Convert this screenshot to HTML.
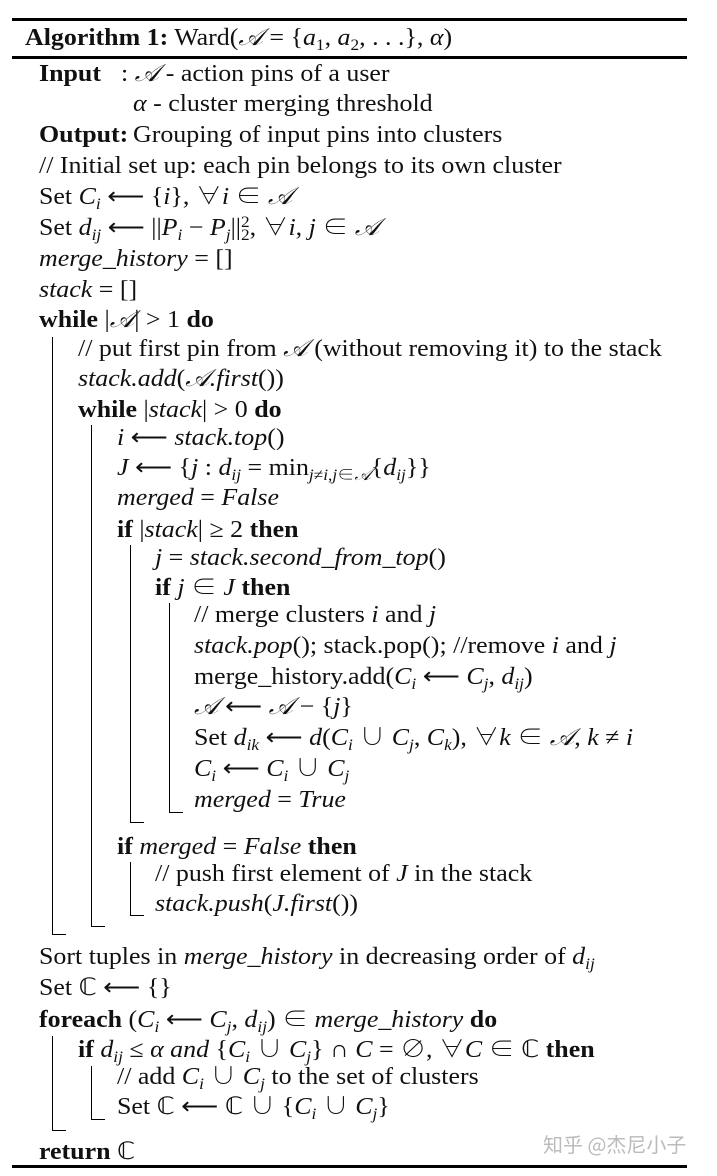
<!DOCTYPE html>
<html><head><meta charset="utf-8"><style>
body{margin:0;width:717px;height:1176px;background:#fff;position:relative;overflow:hidden;font-family:"Liberation Serif","Noto Serif CJK SC",serif;color:#111;}
.l{position:absolute;font-size:24px;line-height:28px;white-space:nowrap;transform:scaleX(1.08);transform-origin:0 50%;}
.b{font-weight:bold}
i{font-style:italic}
sub{font-size:16px;vertical-align:-5px;line-height:0}
sup{font-size:16px;vertical-align:8px;line-height:0}
.h{position:absolute;background:#000;height:3px;left:12px;width:675px}
.v{position:absolute;background:#000;width:1px}
.t{position:absolute;background:#000;height:1px;width:14px}
.wm{position:absolute;left:543px;top:1129px;font-family:"Noto Sans CJK SC",sans-serif;font-size:20px;color:#bbb;}
</style></head><body>
<div class="h" style="top:18px"></div>
<div class="h" style="top:56px"></div>
<div class="h" style="top:1165px"></div>

<div class="l" style="left:25px;top:24px"><span class="b">Algorithm 1:</span> Ward(<i>𝒜</i> = {<i>a</i><sub>1</sub>, <i>a</i><sub>2</sub>, . . .}, <i>α</i>)</div>
<div class="l" style="left:39px;top:60px"><span class="b">Input</span></div>
<div class="l" style="left:121px;top:60px">: <i>𝒜</i> - action pins of a user</div>
<div class="l" style="left:133px;top:90px"><i>α</i> - cluster merging threshold</div>
<div class="l" style="left:39px;top:121px"><span class="b">Output</span><span class="b">:</span></div>
<div class="l" style="left:133px;top:121px">Grouping of input pins into clusters</div>
<div class="l" style="left:39px;top:152px">// Initial set up: each pin belongs to its own cluster</div>
<div class="l" style="left:39px;top:183px">Set <i>C<sub>i</sub></i> ⟵ {<i>i</i>}, ∀<i>i</i> ∈ <i>𝒜</i></div>
<div class="l" style="left:39px;top:214px">Set <i>d<sub>ij</sub></i> ⟵ ||<i>P<sub>i</sub></i> − <i>P<sub>j</sub></i>||<sup>2</sup><sub style="margin-left:-8px">2</sub>, ∀<i>i</i>, <i>j</i> ∈ <i>𝒜</i></div>
<div class="l" style="left:39px;top:245px"><i>merge_history</i> = []</div>
<div class="l" style="left:39px;top:276px"><i>stack</i> = []</div>
<div class="l" style="left:39px;top:306px"><span class="b">while</span> |<i>𝒜</i>| &gt; 1 <span class="b">do</span></div>
<div class="l" style="left:78px;top:335px">// put first pin from <i>𝒜</i> (without removing it) to the stack</div>
<div class="l" style="left:78px;top:365px"><i>stack.add</i>(<i>𝒜.first</i>())</div>
<div class="l" style="left:78px;top:396px"><span class="b">while</span> |<i>stack</i>| &gt; 0 <span class="b">do</span></div>
<div class="l" style="left:117px;top:424px"><i>i</i> ⟵ <i>stack.top</i>()</div>
<div class="l" style="left:117px;top:454px"><i>J</i> ⟵ {<i>j</i> : <i>d<sub>ij</sub></i> = min<sub><i>j</i>≠<i>i</i>,<i>j</i>∈<i>𝒜</i></sub>{<i>d<sub>ij</sub></i>}}</div>
<div class="l" style="left:117px;top:484px"><i>merged</i> = <i>False</i></div>
<div class="l" style="left:117px;top:516px"><span class="b">if</span> |<i>stack</i>| ≥ 2 <span class="b">then</span></div>
<div class="l" style="left:155px;top:544px"><i>j</i> = <i>stack.second_from_top</i>()</div>
<div class="l" style="left:155px;top:574px"><span class="b">if</span> <i>j</i> ∈ <i>J</i> <span class="b">then</span></div>
<div class="l" style="left:194px;top:601px">// merge clusters <i>i</i> and <i>j</i></div>
<div class="l" style="left:194px;top:632px"><i>stack.pop</i>(); stack.pop(); //remove <i>i</i> and <i>j</i></div>
<div class="l" style="left:194px;top:663px">merge_history.add(<i>C<sub>i</sub></i> ⟵ <i>C<sub>j</sub></i>, <i>d<sub>ij</sub></i>)</div>
<div class="l" style="left:194px;top:693px"><i>𝒜</i> ⟵ <i>𝒜</i> − {<i>j</i>}</div>
<div class="l" style="left:194px;top:724px">Set <i>d<sub>ik</sub></i> ⟵ <i>d</i>(<i>C<sub>i</sub></i> ∪ <i>C<sub>j</sub></i>, <i>C<sub>k</sub></i>), ∀<i>k</i> ∈ <i>𝒜</i>, <i>k</i> ≠ <i>i</i></div>
<div class="l" style="left:194px;top:755px"><i>C<sub>i</sub></i> ⟵ <i>C<sub>i</sub></i> ∪ <i>C<sub>j</sub></i></div>
<div class="l" style="left:194px;top:786px"><i>merged</i> = <i>True</i></div>
<div class="l" style="left:117px;top:833px"><span class="b">if</span> <i>merged</i> = <i>False</i> <span class="b">then</span></div>
<div class="l" style="left:155px;top:860px">// push first element of <i>J</i> in the stack</div>
<div class="l" style="left:155px;top:890px"><i>stack.push</i>(<i>J.first</i>())</div>
<div class="l" style="left:39px;top:943px">Sort tuples in <i>merge_history</i> in decreasing order of <i>d<sub>ij</sub></i></div>
<div class="l" style="left:39px;top:974px">Set ℂ ⟵ {}</div>
<div class="l" style="left:39px;top:1006px"><span class="b">foreach</span> (<i>C<sub>i</sub></i> ⟵ <i>C<sub>j</sub></i>, <i>d<sub>ij</sub></i>) ∈ <i>merge_history</i> <span class="b">do</span></div>
<div class="l" style="left:78px;top:1036px"><span class="b">if</span> <i>d<sub>ij</sub></i> ≤ <i>α and</i> {<i>C<sub>i</sub></i> ∪ <i>C<sub>j</sub></i>} ∩ <i>C</i> = ∅, ∀<i>C</i> ∈ ℂ <span class="b">then</span></div>
<div class="l" style="left:117px;top:1063px">// add <i>C<sub>i</sub></i> ∪ <i>C<sub>j</sub></i> to the set of clusters</div>
<div class="l" style="left:117px;top:1093px">Set ℂ ⟵ ℂ ∪ {<i>C<sub>i</sub></i> ∪ <i>C<sub>j</sub></i>}</div>
<div class="l" style="left:39px;top:1138px"><span class="b">return</span> ℂ</div>

<div class="v" style="left:52px;top:337px;height:598px"></div><div class="t" style="left:52px;top:934px"></div>
<div class="v" style="left:91px;top:425px;height:502px"></div><div class="t" style="left:91px;top:926px"></div>
<div class="v" style="left:130px;top:545px;height:278px"></div><div class="t" style="left:130px;top:822px"></div>
<div class="v" style="left:169px;top:603px;height:210px"></div><div class="t" style="left:169px;top:812px"></div>
<div class="v" style="left:130px;top:862px;height:54px"></div><div class="t" style="left:130px;top:915px"></div>
<div class="v" style="left:52px;top:1036px;height:95px"></div><div class="t" style="left:52px;top:1130px"></div>
<div class="v" style="left:91px;top:1066px;height:54px"></div><div class="t" style="left:91px;top:1119px"></div>

<div class="wm">知乎 @杰尼小子</div>
</body></html>
